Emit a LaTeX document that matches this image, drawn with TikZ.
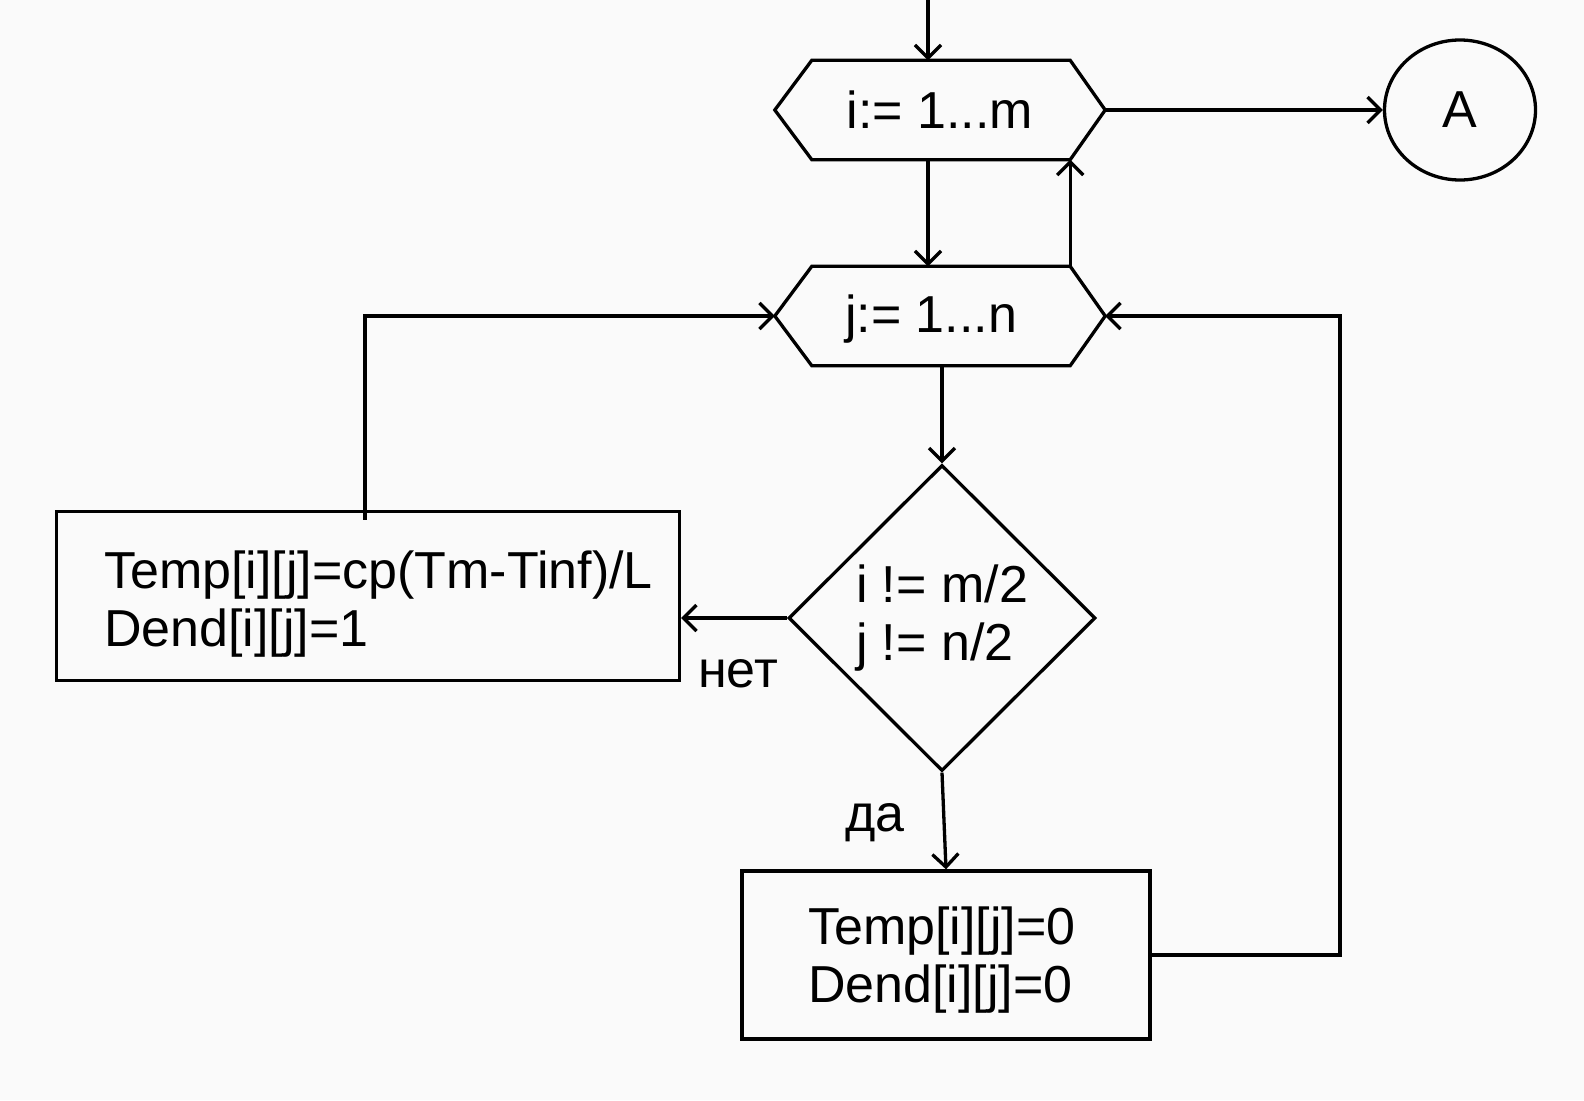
\documentclass[tikz,border=0pt]{standalone}
\usepackage{fontspec}
\setmainfont{Liberation Sans}
\usetikzlibrary{arrows.meta,shapes.geometric}
\definecolor{bg}{HTML}{FAFAFA}
\begin{document}
\begin{tikzpicture}[x=1pt,y=-1pt,
  every node/.style={font=\fontsize{52}{58}\selectfont},
  line/.style={line width=3.3pt},
  arr/.style={line, -{Straight Barb[length=13pt,width=26pt,line width=3.3pt]}},
  hexbox/.style={minimum width=330pt, minimum height=99pt, inner sep=0pt},
  procbox/.style={draw, line width=3.3pt, inner sep=0pt},
  boxtext/.style={align=left, anchor=west, inner sep=0pt},
  decision/.style={diamond, draw, line width=3.3pt, align=left, inner sep=0pt, minimum width=307pt, minimum height=306pt},
  conn/.style={ellipse, draw, line width=3.3pt, minimum width=151pt, minimum height=140pt, inner sep=0pt}]
\fill[bg] (0,0) rectangle (1584,1100);
\useasboundingbox (0,0) rectangle (1584,1100);
% nodes
\node[hexbox] (h1) at (940,110) {i:= 1...m};
\node[hexbox] (h2) at (940,316) {};
\node[inner sep=0pt] (h2t) at (931,319) {j:= 1...n};
\draw[line] (h1.west) -- ([xshift=37pt]h1.north west) -- ([xshift=-35pt]h1.north east) -- (h1.east) -- ([xshift=-35pt]h1.south east) -- ([xshift=37pt]h1.south west) -- cycle;
\draw[line] (h2.west) -- ([xshift=37pt]h2.north west) -- ([xshift=-35pt]h2.north east) -- (h2.east) -- ([xshift=-35pt]h2.south east) -- ([xshift=37pt]h2.south west) -- cycle;
\node[conn] (A) at (1460,110) {A};
\node[decision] (d) at (942,618) {i != m/2\\j != n/2};
\node[procbox, minimum width=623pt, minimum height=169pt] (b1) at (368,596) {};
\node[boxtext] (b1t) at (104,604) {Temp[i][j]=cp(Tm-Tinf)/L\\Dend[i][j]=1};
\node[procbox, minimum width=408pt, minimum height=168pt] (b2) at (946,955) {};
\node[boxtext] (b2t) at (808,960) {Temp[i][j]=0\\Dend[i][j]=0};
\node[anchor=base] (no) at (738,687) {нет};
\node[anchor=base] (yes) at (875,831) {да};
\coordinate (top) at (928,-5);
\coordinate (r) at (1340,316);
\coordinate (l) at (365,316);
% connectors
\draw[arr] (top) -- ([xshift=-12pt]h1.north);
\draw[arr] ([xshift=-12pt]h1.south) -- ([xshift=-12pt]h2.north);
\draw[arr] ([xshift=-35pt]h2.north east) -- ([xshift=-35pt]h1.south east);
\draw[arr] (h1.east) -- (A.west);
\draw[arr] (h2.south -| d.north) -- (d.north);
\draw[arr] (d.west) -- (d.west -| b1.east);
\draw[arr] (d.south) -- (b2.north);
\draw[arr] (b2.east) -| (r) -- (h2.east);
\draw[arr] ([xshift=-3pt,yshift=-10pt]b1.north) -- (l) -- (h2.west);
\end{tikzpicture}
\end{document}
